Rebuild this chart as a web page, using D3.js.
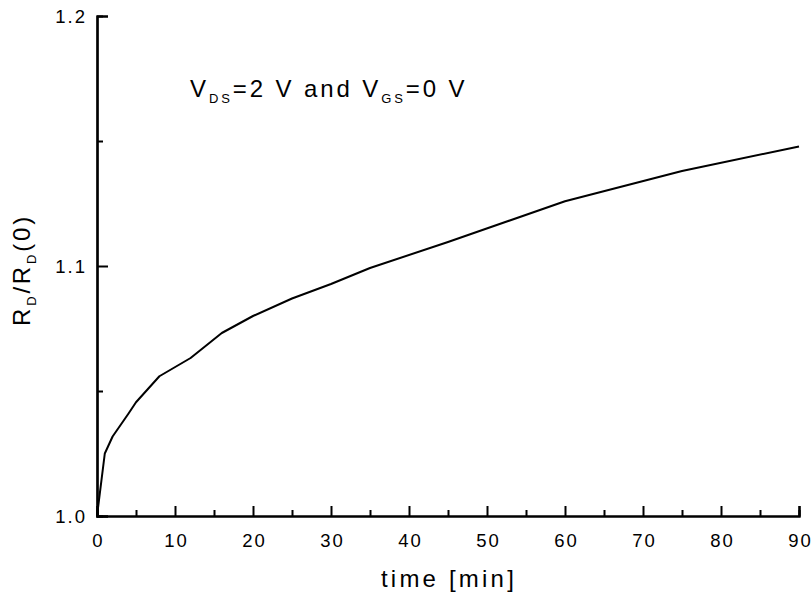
<!DOCTYPE html>
<html>
<head>
<meta charset="utf-8">
<script src="https://cdn.jsdelivr.net/npm/d3@7"></script>
<style>
  body { margin: 0; background: #fff; }
  svg { display: block; font-family: "Liberation Sans", Arial, sans-serif; }
</style>
</head>
<body>
<div id="chart"></div>
<script>
// time in minutes, normalised drain resistance
var timeMin = [0, 1, 2, 4, 5, 8, 12, 16, 20, 25, 30, 35, 45, 60, 75, 90];
var ratio = [1.0, 1.025, 1.0318, 1.0408, 1.0455, 1.0559, 1.0632, 1.0732, 1.0800, 1.0870, 1.0928, 1.0992, 1.1096, 1.1259, 1.1380, 1.1478];
var xTicks = [0, 10, 20, 30, 40, 50, 60, 70, 80, 90];
var xMinor = [5, 15, 25, 35, 45, 55, 65, 75, 85];
var yTicks = [1.0, 1.1, 1.2];
var yMinor = [1.05, 1.15];

var W = 812, H = 598;
var margin = {left: 97, top: 16, right: 13, bottom: 82};

var svg = d3.select('#chart').append('svg').attr('width', W).attr('height', H);

var x = d3.scaleLinear().domain([0, 90]).range([margin.left, W - margin.right]);
var y = d3.scaleLinear().domain([1.0, 1.2]).range([H - margin.bottom, margin.top]);

// x axis, ticks pointing inward
var xAxis = svg.append('g').attr('transform', 'translate(0,' + y(1.0) + ')')
  .call(d3.axisBottom(x).tickValues(xTicks).tickSize(-10).tickPadding(18).tickFormat(d3.format('d')));
svg.append('g').attr('transform', 'translate(0,' + y(1.0) + ')')
  .call(d3.axisBottom(x).tickValues(xMinor).tickSize(-6).tickFormat(''));

var yAxis = svg.append('g').attr('transform', 'translate(' + x(0) + ',0)')
  .call(d3.axisLeft(y).tickValues(yTicks).tickSize(-11).tickPadding(10).tickFormat(d3.format('.1f')));
svg.append('g').attr('transform', 'translate(' + x(0) + ',0)')
  .call(d3.axisLeft(y).tickValues(yMinor).tickSize(-6).tickFormat(''));

svg.selectAll('.domain').attr('stroke', '#000').attr('stroke-width', 2.2);
svg.selectAll('.tick line').attr('stroke', '#000').attr('stroke-width', 2);
svg.selectAll('.tick text').attr('fill', '#000').attr('font-size', 18.5)
  .attr('letter-spacing', 2)
  .attr('font-family', '"Liberation Sans", Arial, sans-serif');
xAxis.selectAll('.tick text').attr('dx', 1);
yAxis.selectAll('.tick text').attr('dy', '0.36em');

// curve
var line = d3.line().x(function(d, i) { return x(timeMin[i]); }).y(function(d) { return y(d); });
svg.append('path').datum(ratio).attr('d', line)
  .attr('fill', 'none').attr('stroke', '#000').attr('stroke-width', 2).attr('stroke-linejoin', 'round');

// x title
svg.append('text').attr('x', (x(0) + x(90)) / 2 + 1).attr('y', 587)
  .attr('text-anchor', 'middle').attr('font-size', 24).attr('letter-spacing', 3.2).text('time [min]');

// y title with subscripts
var yt = svg.append('text').attr('transform', 'translate(30,' + 270 + ') rotate(-90)')
  .attr('text-anchor', 'middle').attr('font-size', 24).attr('letter-spacing', 2.8);
yt.append('tspan').text('R');
yt.append('tspan').attr('font-size', 13).attr('dy', 6).text('D');
yt.append('tspan').attr('dy', -6).text('/R');
yt.append('tspan').attr('font-size', 13).attr('dy', 6).text('D');
yt.append('tspan').attr('dy', -6).text('(0)');

// annotation
var ann = svg.append('text').attr('x', 190).attr('y', 97).attr('font-size', 24).attr('letter-spacing', 2.9);
ann.append('tspan').text('V');
ann.append('tspan').attr('font-size', 13).attr('dy', 6).text('DS');
ann.append('tspan').attr('dy', -6).text('=2 V and V');
ann.append('tspan').attr('font-size', 13).attr('dy', 6).text('GS');
ann.append('tspan').attr('dy', -6).text('=0 V');
</script>
</body>
</html>
